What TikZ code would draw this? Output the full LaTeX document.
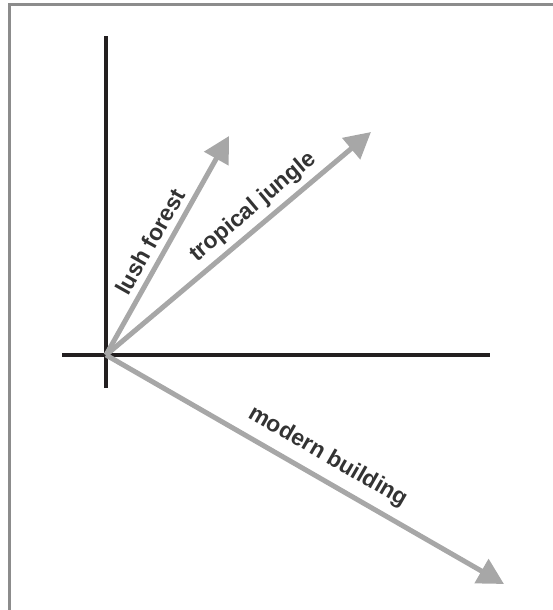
\documentclass[tikz,border=0pt]{standalone}
\usepackage{fontspec}
\setmainfont{Liberation Sans}
\usetikzlibrary{arrows.meta}
\definecolor{axisblack}{HTML}{231F20}
\definecolor{vecgray}{HTML}{A7A7A7}
\definecolor{labelgray}{HTML}{333333}
\definecolor{framegray}{HTML}{8C8C8C}

\begin{document}
\begin{tikzpicture}[x=1bp, y=-1bp,
  axis/.style={line width=4bp, draw=axisblack},
  vec/.style={line width=5bp, draw=vecgray, -{Triangle[length=26bp, width=27bp]}},
  veclabel/.style={sloped, above, text=labelgray, inner sep=0pt,
    font=\bfseries\fontsize{23}{23}\selectfont}]
  \useasboundingbox (0,0) rectangle (553,610);
  % Frame (top and left edges only)
  \draw[framegray, line width=2.5bp] (9.7,610) -- (9.7,4.7) -- (553,4.7);
  % Axes
  \coordinate (O) at (106,355);
  \coordinate (ytop) at (106,36);
  \coordinate (ybot) at (106,388);
  \coordinate (xleft) at (62,355);
  \coordinate (xright) at (490,355);
  \draw[axis] (ybot) -- (ytop);
  \draw[axis] (xleft) -- (xright);
  % Tips of the three vectors
  \coordinate (forest) at (229,136);
  \coordinate (jungle) at (371,132);
  \coordinate (building) at (504,584);
  \draw[vec] (O) -- (forest) node[veclabel, pos=0.48, yshift=6bp] (lforest) {lush forest};
  \draw[vec] (O) -- (jungle) node[veclabel, pos=0.6, yshift=5bp] (ljungle) {tropical jungle};
  \draw[vec] (O) -- (building) node[veclabel, pos=0.53, yshift=9bp] (lbuilding) {modern building};
\end{tikzpicture}
\end{document}
